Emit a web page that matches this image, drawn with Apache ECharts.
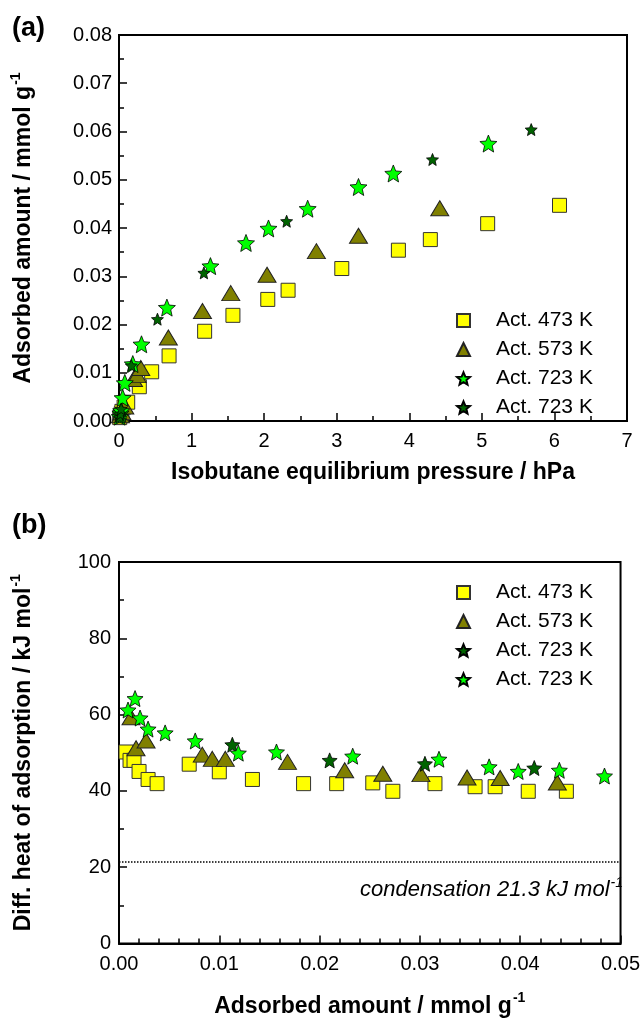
<!DOCTYPE html>
<html>
<head>
<meta charset="utf-8">
<script src="https://cdn.jsdelivr.net/npm/echarts@6/dist/echarts.min.js"></script>
<style>
  html, body { margin: 0; padding: 0; background: #fff; }
  #chart { width: 643px; height: 1019px; }
</style>
</head>
<body>
<div id="chart"></div>
<script>
// (a) isotherms: pressure / hPa vs adsorbed amount / mmol g-1
const a473P = [0.01, 0.02, 0.03, 0.04, 0.07, 0.12, 0.28, 0.45, 0.69, 1.18, 1.57, 2.05, 2.33, 3.07, 3.85, 4.29, 5.08, 6.07]
const a473N = [0.0007, 0.0011, 0.0015, 0.0020, 0.0029, 0.0039, 0.0071, 0.0102, 0.0135, 0.0186, 0.0219, 0.0252, 0.0271, 0.0316, 0.0354, 0.0376, 0.0409, 0.0447]
const a573P = [0.02, 0.04, 0.08, 0.20, 0.25, 0.30, 0.68, 1.15, 1.54, 2.04, 2.72, 3.30, 4.42]
const a573N = [0.0012, 0.0018, 0.0030, 0.0087, 0.0095, 0.0110, 0.0173, 0.0228, 0.0265, 0.0303, 0.0352, 0.0384, 0.0441]
const a723P = [0.01, 0.02, 0.03, 0.05, 0.08, 0.19, 0.31, 0.66, 1.26, 1.75, 2.06, 2.60, 3.30, 3.78, 5.09]
const a723N = [0.0009, 0.0016, 0.0021, 0.0048, 0.0079, 0.0118, 0.0159, 0.0235, 0.0321, 0.0369, 0.0399, 0.0440, 0.0485, 0.0513, 0.0575]
const a723bP = [0.01, 0.02, 0.03, 0.17, 0.53, 1.17, 2.31, 4.32, 5.68]
const a723bN = [0.0008, 0.0015, 0.0025, 0.0115, 0.0211, 0.0307, 0.0414, 0.0542, 0.0604]

// (b) differential heat / kJ mol-1 vs adsorbed amount / mmol g-1
const b473N = [0.0007, 0.0011, 0.0015, 0.0020, 0.0029, 0.0038, 0.0070, 0.0100, 0.0133, 0.0184, 0.0217, 0.0253, 0.0273, 0.0315, 0.0355, 0.0375, 0.0408, 0.0446]
const b473Q = [50.2, 48.0, 48.0, 45.1, 43.0, 41.9, 47.0, 45.0, 43.0, 41.9, 41.9, 42.1, 39.9, 41.9, 41.1, 41.1, 39.9, 39.9]
const b573N = [0.0012, 0.0017, 0.0027, 0.0083, 0.0093, 0.0106, 0.0168, 0.0225, 0.0263, 0.0301, 0.0347, 0.0380, 0.0437]
const b573Q = [59.3, 51.2, 53.2, 49.5, 48.4, 48.4, 47.6, 45.4, 44.5, 44.4, 43.5, 43.4, 42.2]
const b723N = [0.0009, 0.0016, 0.0021, 0.0029, 0.0046, 0.0076, 0.0119, 0.0157, 0.0233, 0.0319, 0.0369, 0.0398, 0.0439, 0.0484]
const b723Q = [61.2, 64.2, 59.1, 56.2, 55.2, 53.1, 49.9, 50.2, 49.1, 48.3, 46.3, 45.1, 45.4, 43.9]
const b723bN = [0.0113, 0.0210, 0.0305, 0.0414]
const b723bQ = [52.1, 48.0, 47.1, 46.0]

const condensation = 21.3

const N473 = 'Act. 473 K'
const N573 = 'Act. 573 K'
const N723 = 'Act. 723 K'
// trailing space keeps the two 723 K series apart in the legend
const N723b = 'Act. 723 K '

const FONT = 'Liberation Sans, Arial, sans-serif'
const STAR = 'path://M0,-10L2.65,-3.64L9.51,-3.09L4.28,1.39L5.88,8.09L0,4.5L-5.88,8.09L-4.28,1.39L-9.51,-3.09L-2.65,-3.64Z'

const zip = (xs, ys) => xs.map((x, i) => [x, ys[i]])

const styles = {
  sq: { symbol: 'rect', itemStyle: { color: '#FFFF00', borderColor: '#333', borderWidth: 1, opacity: 1 } },
  tri: { symbol: 'triangle', itemStyle: { color: '#808000', borderColor: '#222', borderWidth: 1, opacity: 1 } },
  star: { symbol: STAR, itemStyle: { color: '#00FF00', borderColor: '#000', borderWidth: 0.8, opacity: 1 } },
  dark: { symbol: STAR, itemStyle: { color: '#006400', borderColor: '#000', borderWidth: 0.8, opacity: 1 } }
}

function scatter (name, style, size, data, idx) {
  return Object.assign({
    type: 'scatter',
    name: name,
    xAxisIndex: idx,
    yAxisIndex: idx,
    symbolSize: size,
    data: data,
    z: 3
  }, style)
}

const nameRich = {
  t: { fontFamily: FONT, fontWeight: 'bold', fontSize: 23, lineHeight: 30, color: '#000' },
  s: { fontFamily: FONT, fontWeight: 'bold', fontSize: 14, lineHeight: 30, verticalAlign: 'top', color: '#000', padding: [0, 0, 12, 1] }
}

const tickLine = { color: '#000', width: 1.5 }

function axis (opt) {
  return Object.assign({
    type: 'value',
    nameLocation: 'middle',
    nameTextStyle: { rich: nameRich },
    axisLine: { show: true, onZero: false, lineStyle: { color: '#000', width: 2 } },
    axisTick: { show: true, inside: true, length: 8, lineStyle: tickLine },
    splitLine: { show: false },
    axisLabel: { color: '#000', fontFamily: FONT, fontSize: 20, margin: 8 }
  }, opt)
}

function legend (top, names) {
  return {
    orient: 'vertical',
    left: 451,
    top: top,
    itemWidth: 13,
    itemHeight: 13,
    itemGap: 8,
    data: names,
    textStyle: { fontFamily: FONT, fontSize: 21, color: '#000', padding: [0, 0, 0, 21] }
  }
}

const chart = echarts.init(document.getElementById('chart'))

chart.setOption({
  animation: false,
  backgroundColor: '#fff',
  grid: [
    { left: 119, top: 35, width: 508, height: 386, show: true, borderColor: '#000', borderWidth: 2 },
    { left: 119, top: 562, width: 508, height: 384, show: true, borderColor: '#000', borderWidth: 2 }
  ],
  xAxis: [
    axis({
      gridIndex: 0, min: 0, max: 7, interval: 1,
      minorTick: { show: true, splitNumber: 2, length: 5, lineStyle: tickLine },
      axisLabel: { color: '#000', fontFamily: FONT, fontSize: 20, margin: 10 },
      name: '{t|Isobutane equilibrium pressure / hPa}',
      nameGap: 37
    }),
    axis({
      gridIndex: 1, min: 0, max: 0.05, interval: 0.01,
      minorTick: { show: true, splitNumber: 5, length: 5, lineStyle: tickLine },
      axisLabel: { color: '#000', fontFamily: FONT, fontSize: 20, margin: 11, formatter: v => v.toFixed(2) },
      name: '{t|Adsorbed amount / mmol g}{s|-1}',
      nameGap: 48
    })
  ],
  yAxis: [
    axis({
      gridIndex: 0, min: 0, max: 0.08, interval: 0.01,
      minorTick: { show: true, splitNumber: 2, length: 5, lineStyle: tickLine },
      axisLabel: { color: '#000', fontFamily: FONT, fontSize: 20, margin: 7, formatter: v => v.toFixed(2) },
      name: '{t|Adsorbed amount / mmol g}{s|-1}',
      nameRotate: 90,
      nameGap: 80
    }),
    axis({
      gridIndex: 1, min: 0, max: 100, interval: 20,
      minorTick: { show: true, splitNumber: 2, length: 5, lineStyle: tickLine },
      name: '{t|Diff. heat of adsorption / kJ mol}{s|-1}',
      nameRotate: 90,
      nameGap: 80
    })
  ],
  legend: [
    legend(305, [N473, N573, N723, N723b]),
    legend(577, [N473, N573, N723b, N723])
  ],
  graphic: [
    { type: 'text', left: 12, top: 15, style: { text: '(a)', font: 'bold 27px ' + FONT, fill: '#000' } },
    { type: 'text', left: 12, top: 512, style: { text: '(b)', font: 'bold 27px ' + FONT, fill: '#000' } },
    {
      type: 'text', right: 20, top: 876,
      style: {
        text: '{i|condensation ' + condensation + ' kJ mol}{s|-1}',
        rich: {
          i: { fontFamily: FONT, fontStyle: 'italic', fontSize: 22, lineHeight: 28, fill: '#000' },
          s: { fontFamily: FONT, fontStyle: 'italic', fontSize: 14, lineHeight: 28, verticalAlign: 'top', fill: '#000', padding: [0, 0, 10, 1] }
        }
      }
    }
  ],
  series: [
    scatter(N473, styles.sq, 14, zip(a473P, a473N), 0),
    scatter(N573, styles.tri, [18, 15], zip(a573P, a573N), 0),
    scatter(N723, styles.star, 17, zip(a723P, a723N), 0),
    scatter(N723b, styles.dark, 12, zip(a723bP, a723bN), 0),
    scatter(N473, styles.sq, 14, zip(b473N, b473Q), 1),
    scatter(N573, styles.tri, [18, 15], zip(b573N, b573Q), 1),
    scatter(N723b, styles.dark, 15, zip(b723bN, b723bQ), 1),
    Object.assign(scatter(N723, styles.star, 16, zip(b723N, b723Q), 1), {
      markLine: {
        silent: true,
        symbol: 'none',
        label: { show: false },
        lineStyle: { type: 'dotted', color: '#000', width: 1.5 },
        data: [{ yAxis: condensation }]
      }
    })
  ]
})
</script>
</body>
</html>
